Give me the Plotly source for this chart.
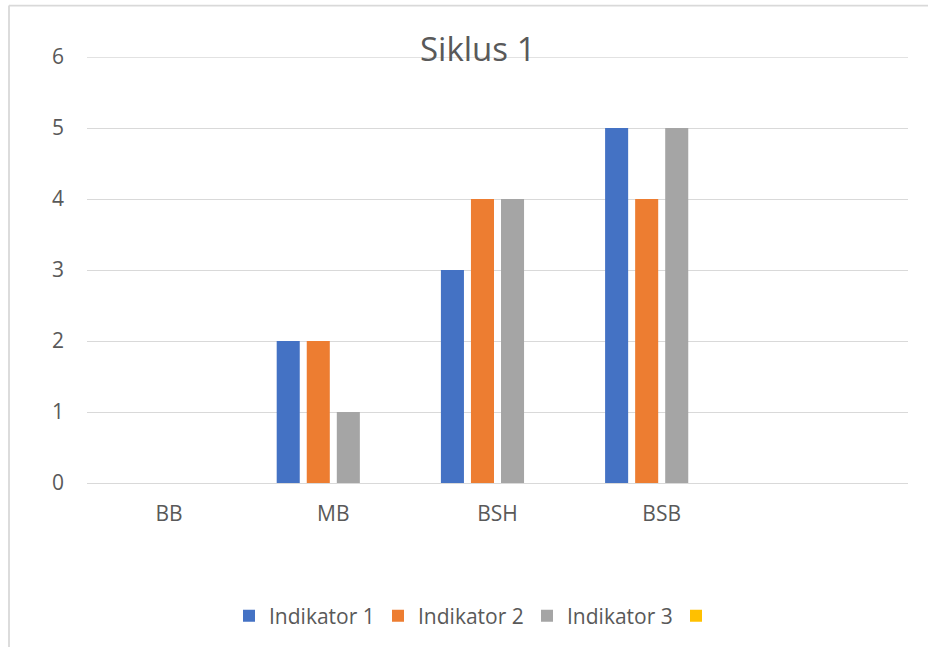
import plotly.graph_objects as go

categories = ["BB", "MB", "BSH", "BSB"]
indikator1 = [0, 2, 3, 5]
indikator2 = [0, 2, 4, 4]
indikator3 = [0, 1, 4, 5]
seri4 = [None, None, None, None]

series_names = ["Indikator 1", "Indikator 2", "Indikator 3", ""]
series_values = [indikator1, indikator2, indikator3, seri4]
colors = ["#4472C4", "#ED7D31", "#A5A5A5", "#FFC000"]

y_ticks = [0, 1, 2, 3, 4, 5, 6]
title_text = "Siklus 1"

FONT = "Open Sans"
TXT = "#595959"
GRID = "#D9D9D9"

W, H = 928, 647
L, R, T, B = 87, 20, 57, 163
pw = W - L - R
ph = H - T - B

def px_x(x):
    return (x - L) / pw

def px_y(y):
    return (H - B - y) / ph

fig = go.Figure()
for name, vals, col in zip(series_names, series_values, colors):
    fig.add_trace(go.Bar(x=categories, y=vals, name=name, marker=dict(color=col, line=dict(width=0))))

fig.update_layout(
    width=W, height=H, autosize=False,
    margin=dict(l=L, r=R, t=T, b=B),
    paper_bgcolor="white", plot_bgcolor="white",
    barmode="group", bargap=0.268, bargroupgap=0.233,
    font=dict(family=FONT, color=TXT, size=21),
    showlegend=True,
    legend=dict(orientation="h", x=px_x(229), xanchor="left", y=px_y(616), yanchor="middle",
                font=dict(family=FONT, size=21, color=TXT), entrywidth=104, entrywidthmode="pixels",
                traceorder="normal"),
    xaxis=dict(type="category", range=[-0.5, 4.5], showgrid=False, showline=False, zeroline=False,
               ticks="", tickfont=dict(family=FONT, size=21, color=TXT), ticklabelstandoff=16),
    yaxis=dict(range=[0, 6], tickvals=y_ticks, showgrid=True, gridcolor=GRID, gridwidth=1.3,
               zeroline=True, zerolinecolor=GRID, zerolinewidth=1.3, showline=False, ticks="",
               tickfont=dict(family=FONT, size=21, color=TXT), ticklabelstandoff=22),
    annotations=[dict(text=title_text, xref="paper", yref="paper", x=px_x(478), y=px_y(48),
                      xanchor="center", yanchor="middle", showarrow=False,
                      font=dict(family=FONT, size=33, color=TXT))],
    shapes=[
        dict(type="line", xref="paper", yref="y", x0=0, x1=1, y0=y_ticks[-1], y1=y_ticks[-1],
             line=dict(color=GRID, width=1.3), layer="below"),
        dict(type="line", xref="paper", yref="paper", x0=px_x(9), x1=px_x(935), y0=px_y(5.5), y1=px_y(5.5),
             line=dict(color=GRID, width=1.8)),
        dict(type="line", xref="paper", yref="paper", x0=px_x(9), x1=px_x(9), y0=px_y(5.5), y1=px_y(660),
             line=dict(color=GRID, width=1.8)),
    ],
)

fig.write_html("out.html", config={"displayModeBar": False},
               post_script="document.body.style.margin='0';")
